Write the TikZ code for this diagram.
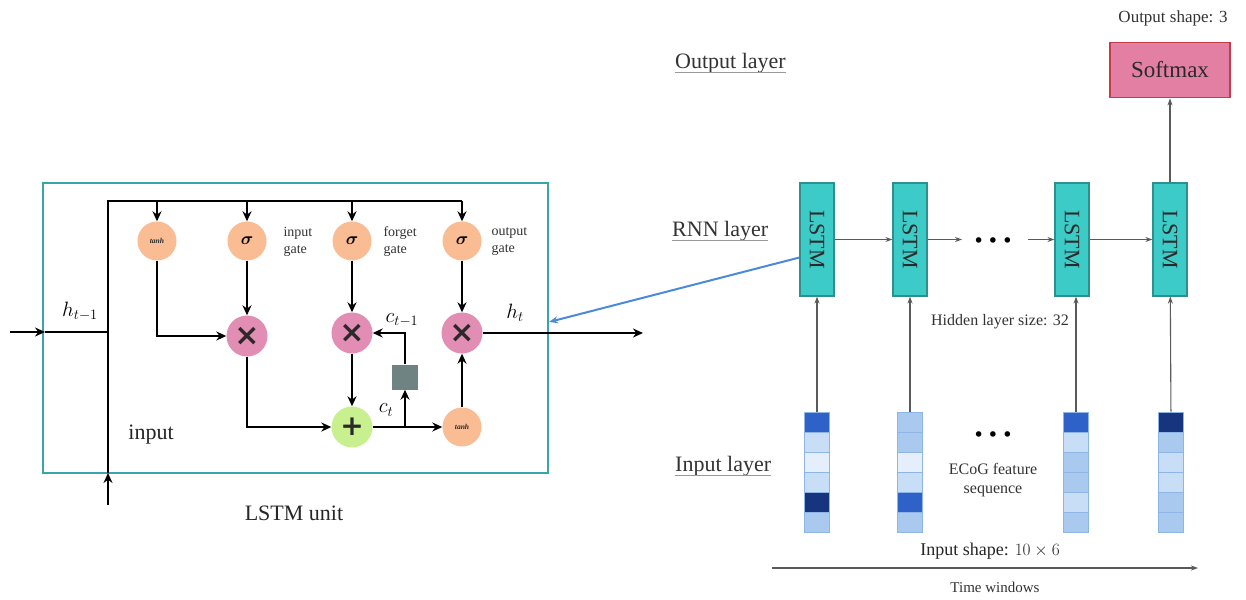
\documentclass[tikz,border=0pt]{standalone}
\usepackage{amsmath}
\usepackage{fontspec}
\setmainfont{Liberation Serif}
\newfontfamily\symfnt{DejaVu Sans}
\usepackage{graphicx}
\usetikzlibrary{arrows.meta,calc}
\definecolor{framec}{HTML}{3AA5A8}
\definecolor{peach}{HTML}{F9BC93}
\definecolor{pinkc}{HTML}{E18DB4}
\definecolor{greenc}{HTML}{C9F08E}
\definecolor{graysq}{HTML}{6F8383}
\definecolor{lstmfill}{HTML}{3DCBC8}
\definecolor{lstmdraw}{HTML}{2E8F8E}
\definecolor{softfill}{HTML}{E27FA2}
\definecolor{softdraw}{HTML}{C43C4C}
\definecolor{bluel}{HTML}{4A8AD9}
\definecolor{navy}{HTML}{17347F}
\definecolor{midb}{HTML}{2E62C9}
\definecolor{lia}{HTML}{A9C9EF}
\definecolor{lib}{HTML}{C8DDF6}
\definecolor{lic}{HTML}{E4EFFB}
\definecolor{cellb}{HTML}{8DB6E6}
\definecolor{grayarr}{HTML}{5A5A5A}
\definecolor{ulc}{HTML}{9A9A9A}
\definecolor{darkt}{HTML}{2A2A2A}
\begin{document}
\begin{tikzpicture}[x=1pt,y=-1pt,
  arr/.style={line width=2.8pt,-{Stealth[length=10pt,width=9pt]}},
  bline/.style={line width=2.8pt},
  garr/.style={line width=1.1pt,grayarr,-{Stealth[length=7pt,width=5pt]}},
  gatec/.style={circle,fill=peach,minimum size=39pt,inner sep=0pt},
  multc/.style={circle,fill=pinkc,minimum size=41pt,inner sep=0pt,font=\symfnt\bfseries\fontsize{30}{30}\selectfont,text=darkt},
  plusc/.style={circle,fill=greenc,minimum size=41pt,inner sep=0pt,font=\symfnt\bfseries\fontsize{28}{28}\selectfont,text=darkt},
  tanhtxt/.style={font=\fontsize{7.5}{7.5}\selectfont\bfseries\itshape,text=darkt},
  sigtxt/.style={font=\fontsize{17}{17}\selectfont},
  gatelbl/.style={font=\fontsize{14}{17}\selectfont,align=left,anchor=west,text=black!80},
  biglbl/.style={font=\fontsize{22}{24}\selectfont,text=black!85},
  laylbl/.style={font=\fontsize{22}{24}\selectfont,text=black!80,anchor=west,inner xsep=0pt},
  mathlbl/.style={font=\fontsize{22}{22}\selectfont},
  lstmbox/.style={draw=lstmdraw,line width=1.2pt,fill=lstmfill,minimum width=34pt,minimum height=113pt,inner sep=0pt,font=\fontsize{22}{22}\selectfont,text=darkt},
  softbox/.style={draw=softdraw,line width=1.8pt,fill=softfill,minimum width=120pt,minimum height=55pt,font=\fontsize{23}{23}\selectfont,text=darkt},
  cell/.style={draw=cellb,line width=0.8pt,minimum width=25pt,minimum height=20pt,inner sep=0pt},
  smalllbl/.style={font=\fontsize{16}{19}\selectfont,text=black!80,align=center},
  dotlbl/.style={font=\symfnt\fontsize{19}{19}\selectfont},
  uline/.style={ulc,line width=0.8pt}
]
\useasboundingbox (0,0) rectangle (1246,599);
\fill[white] (0,0) rectangle (1246,599);

% ---------------- LSTM unit ----------------
\node[draw=framec,line width=2.2pt,minimum width=505pt,minimum height=290pt,inner sep=0pt] (frame) at (295.5,328) {};

\node[gatec,tanhtxt] (t1) at (157,241) {tanh};
\node[gatec,sigtxt] (si) at (247,241) {$\boldsymbol{\sigma}$};
\node[gatec,sigtxt] (sf) at (352,241) {$\boldsymbol{\sigma}$};
\node[gatec,sigtxt] (so) at (462,241) {$\boldsymbol{\sigma}$};

\node[gatelbl] (lbi) at (280,242) {input\\gate};
\node[gatelbl] (lbf) at (380,242) {forget\\gate};
\node[gatelbl] (lbo) at (488,242) {output\\gate};

\node[multc] (mi) at (247,336) {×};
\node[multc] (mf) at (352,333) {×};
\node[multc] (mo) at (462,333) {×};
\node[plusc] (pl) at (352,427) {+};
\node[gatec,tanhtxt] (t2) at (462,427) {tanh};
\node[fill=graysq,minimum width=26pt,minimum height=25pt,inner sep=0pt] (sq) at (405,377) {};

\coordinate (inb) at (108,505);
\coordinate (inm) at (108,473);
\coordinate (tl) at (108,201);
\coordinate (hin) at (10,332);
\coordinate (hinb) at (45,332);
\coordinate (hout) at (643,333);

\draw[arr] (inb) -- (inm);
\draw[bline] (inm) -- (tl) -- (tl -| so);
\draw[arr] (hin) -- (hinb);
\draw[bline] (hinb) -- (hinb -| inb);

\draw[arr] (t1.north |- tl) -- (t1.north);
\draw[arr] (si.north |- tl) -- (si.north);
\draw[arr] (sf.north |- tl) -- (sf.north);
\draw[arr] (so.north |- tl) -- (so.north);

\draw[arr] (t1) |- (mi);
\draw[arr] (si) -- (mi);
\draw[arr] (mi) |- (pl);
\draw[arr] (sf) -- (mf);
\draw[arr] (mf) -- (pl);
\draw[arr] (pl) -- (t2);
\draw[arr] (sq |- pl) -- (sq);
\draw[arr] (sq) |- (mf);
\draw[arr] (t2) -- (mo);
\draw[arr] (so) -- (mo);
\draw[arr] (mo) -- (hout);

\node[mathlbl] (hprev) at (80,311) {$h_{t-1}$};
\node[mathlbl] (hnext) at (515,313) {$h_t$};
\node[mathlbl] (cprev) at (402,320) {$c_{t-1}$};
\node[mathlbl] (ccur) at (386,410) {$c_t$};
\node[biglbl] (inlbl) at (151,435) {input};
\node[biglbl] (unitlbl) at (294,513) {LSTM unit};

% ---------------- Right network ----------------
\node[laylbl] (ol) at (675,63) {Output layer};
\node[laylbl] (rl) at (672,231) {RNN layer};
\node[laylbl] (il) at (675,466) {Input layer};
\draw[uline] ([yshift=-4pt]ol.base west) -- ([yshift=-4pt]ol.base east);
\draw[uline] ([yshift=-4pt]rl.base west) -- ([yshift=-4pt]rl.base east);
\draw[uline] ([yshift=-4pt]il.base west) -- ([yshift=-4pt]il.base east);

\node[lstmbox] (L1) at (817,239.5) {\rotatebox{-90}{LSTM}};
\node[lstmbox] (L2) at (910,239.5) {\rotatebox{-90}{LSTM}};
\node[lstmbox] (L3) at (1072,239.5) {\rotatebox{-90}{LSTM}};
\node[lstmbox] (L4) at (1170,239.5) {\rotatebox{-90}{LSTM}};

\node[softbox] (sm) at (1170,70) {Softmax};
\node[font=\fontsize{17}{17}\selectfont,text=black!80] (osh) at (1173,18) {Output shape: 3};

\coordinate (d1) at (962,239.5);
\coordinate (d2) at (1028,239.5);
\draw[garr] (L1) -- (L2);
\draw[garr] (L2) -- (d1);
\draw[garr] (d2) -- (L3);
\draw[garr] (L3) -- (L4);
\draw[garr] (L4) -- (sm);

\node[dotlbl] (dots1) at (993,243) {•\,•\,•};
\node[dotlbl] (dots2) at (993,437) {•\,•\,•};

\node[font=\fontsize{16}{16}\selectfont,text=black!80] (hls) at (1000,322) {Hidden layer size: 32};

% input columns
\foreach \cx/\name/\ca/\cb/\cc/\cd/\ce/\cf in {
  817/c1/midb/lib/lic/lib/navy/lia,
  910/c2/lia/lia/lic/lib/midb/lia,
  1076/c3/midb/lib/lia/lia/lib/lia,
  1171/c4/navy/lia/lib/lib/lia/lia}{
  \node[cell,fill=\ca] (\name-1) at (\cx,422) {};
  \node[cell,fill=\cb] (\name-2) at (\cx,442) {};
  \node[cell,fill=\cc] (\name-3) at (\cx,462) {};
  \node[cell,fill=\cd] (\name-4) at (\cx,482) {};
  \node[cell,fill=\ce] (\name-5) at (\cx,502) {};
  \node[cell,fill=\cf] (\name-6) at (\cx,522) {};
}
\draw[garr] (c1-1) -- (L1);
\draw[garr] (c2-1) -- (L2);
\draw[garr] (c3-1.north) -- (c3-1.north |- L3.south);
\draw[garr] (c4-1) -- (L4);

\node[smalllbl] (ecog) at (993,480) {ECoG feature\\sequence};
\node[font=\fontsize{18}{18}\selectfont,text=black!85] (ish) at (990,551) {Input shape: $10\times6$};
\coordinate (ta) at (772,568);
\coordinate (tb) at (1198,568);
\draw[garr] (ta) -- (tb);
\node[font=\fontsize{15}{15}\selectfont,text=black!80] (tw) at (995,587) {Time windows};

% link from RNN to LSTM unit
\coordinate (bt) at (549,322);
\draw[bluel,line width=2pt,-{Stealth[length=9pt,width=7pt]}] ([yshift=-18pt]L1.west) -- (bt);
\end{tikzpicture}
\end{document}
